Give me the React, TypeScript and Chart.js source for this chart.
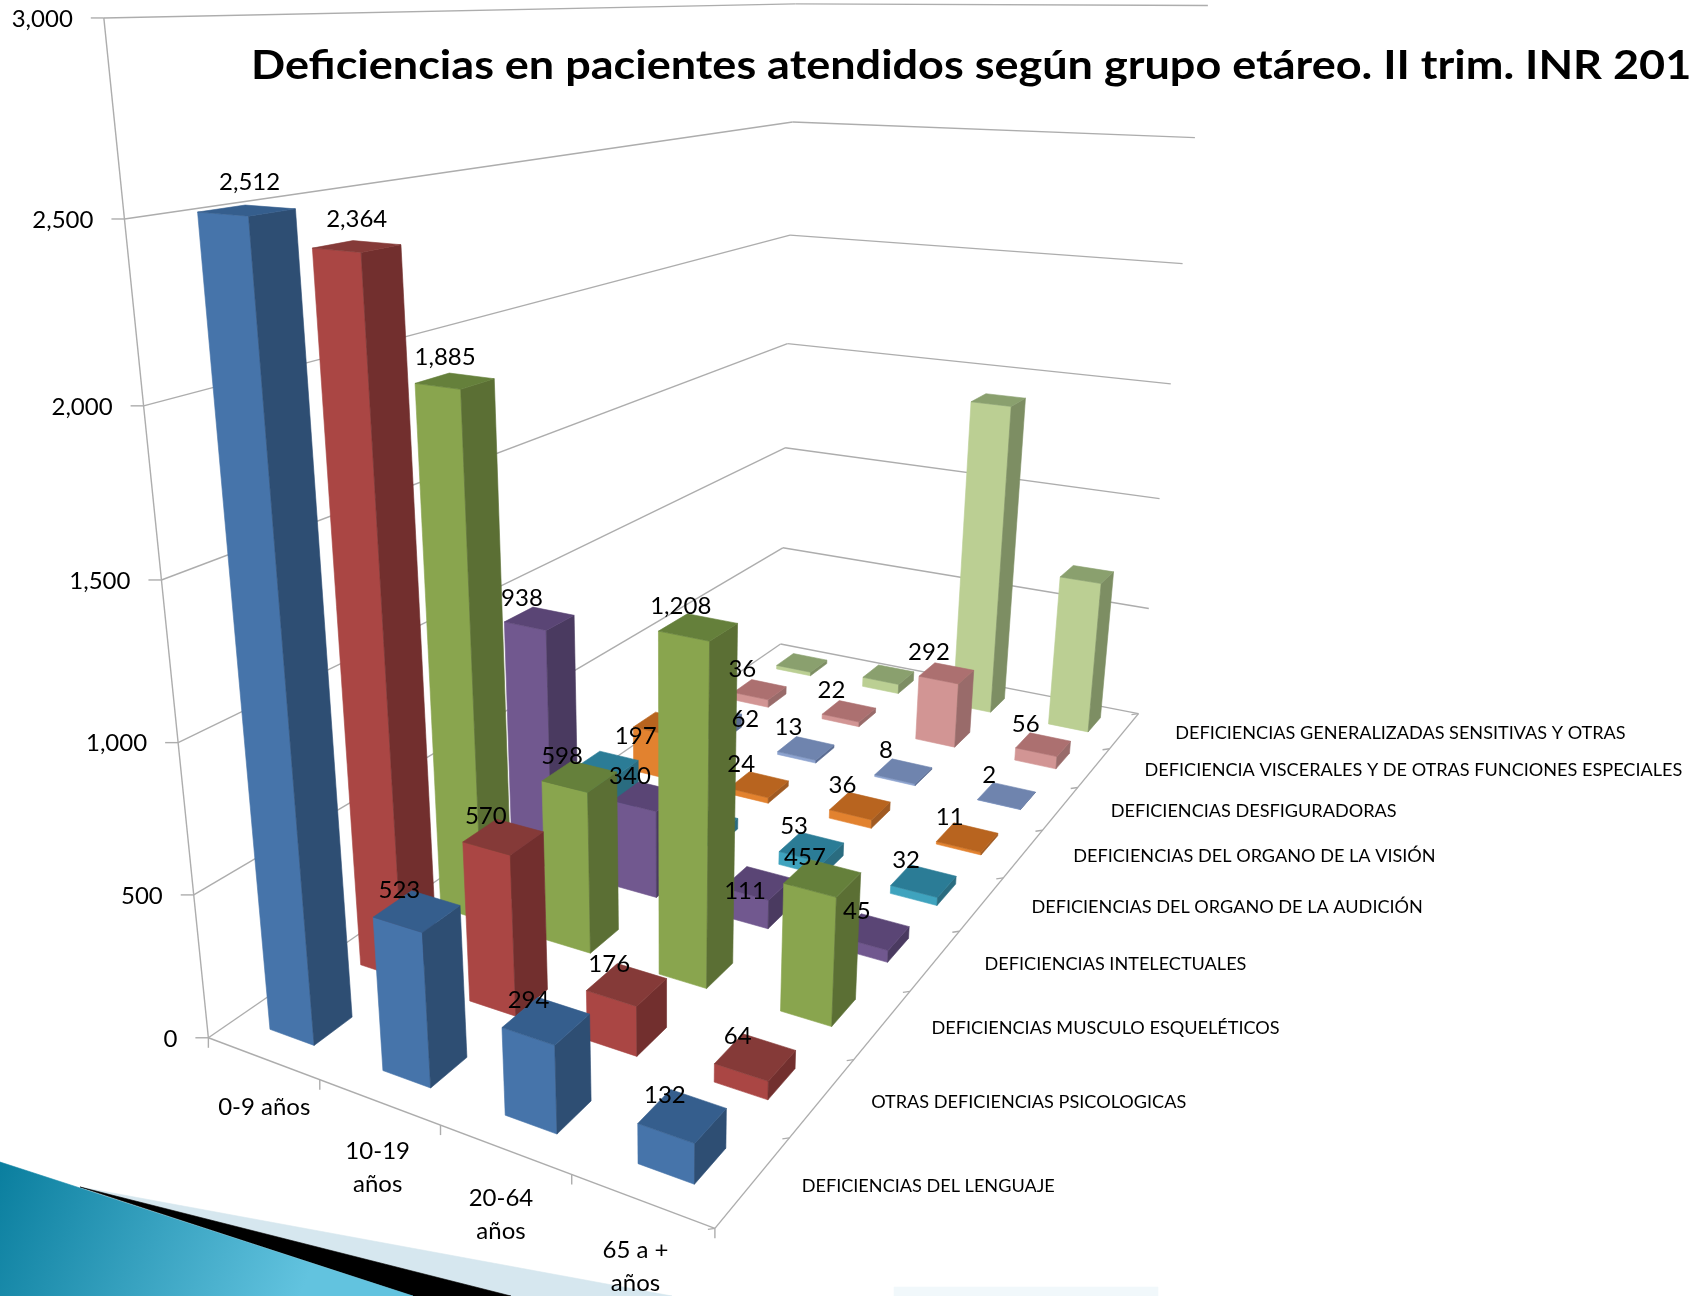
import React, { useEffect, useRef } from "react";
import { Chart, BarController, BarElement, CategoryScale, LinearScale } from "chart.js";

Chart.register(BarController, BarElement, CategoryScale, LinearScale);

const TITLE = "Deficiencias en pacientes atendidos según grupo etáreo. II trim. INR 2013";
const ageGroups = ["0-9 años", "10-19 años", "20-64 años", "65 a + años"];
const ageLines = [["0-9 años"], ["10-19", "años"], ["20-64", "años"], ["65 a +", "años"]];
const deficiencies = [
  "DEFICIENCIAS DEL LENGUAJE",
  "OTRAS DEFICIENCIAS PSICOLOGICAS",
  "DEFICIENCIAS MUSCULO ESQUELÉTICOS",
  "DEFICIENCIAS INTELECTUALES",
  "DEFICIENCIAS DEL ORGANO DE LA AUDICIÓN",
  "DEFICIENCIAS DEL ORGANO DE LA VISIÓN",
  "DEFICIENCIAS DESFIGURADORAS",
  "DEFICIENCIA VISCERALES Y DE OTRAS FUNCIONES ESPECIALES",
  "DEFICIENCIAS GENERALIZADAS SENSITIVAS Y OTRAS",
];
const lenguaje = [2512, 523, 294, 132];
const psicologicas = [2364, 570, 176, 64];
const musculo = [1885, 598, 1208, 457];
const intelectuales = [938, 340, 111, 45];
const audicion = [190, 45, 53, 32];
const vision = [197, 24, 36, 11];
const desfiguradoras = [62, 13, 8, 2];
const viscerales = [36, 22, 292, 56];
const generalizadas = [18, 45, 1400, 685];
const seriesValues = [lenguaje, psicologicas, musculo, intelectuales, audicion, vision, desfiguradoras, viscerales, generalizadas];
const yTicks = [0, 500, 1000, 1500, 2000, 2500, 3000];

const frontColors = ["#4674AA", "#AA4644", "#89A54E", "#71588F", "#3FA3BE", "#E2822F", "#8DA3CF", "#D29594", "#BBCF93"];
const sideColors = ["#2E4E73", "#722F2E", "#5B6F34", "#4A3A60", "#2A6C80", "#A05A22", "#5A6C92", "#996B6A", "#7D8E63"];
const topColors = ["#355E8D", "#853A38", "#65803B", "#5A4575", "#2B7C96", "#B8641F", "#6F84AE", "#AC7070", "#8AA06E"];
const hiddenLabelSeries = [8];
const hiddenLabels = ["4:0", "4:1"];
const labelNudge: Record<string, [number, number]> = { "3:2": [5, 29], "5:0": [-10, 33], "6:0": [49, 22] };

const BAR_U = 0.4;
const BAR_W = 0.41;

// Camera fit: cube corners (age, depth, height) -> picture position
const cameraFit: number[][] = [
  [0, 0, 0, 207, 1037], [1, 0, 0, 715, 1229], [1, 1, 0, 1138, 713], [0, 1, 0, 780, 644],
  [0, 0, 1, 105, 17], [0, 1, 1, 791, 3], [1, 1, 1, 1208, 6],
  [0, 0, 5 / 6, 125, 219], [0, 0, 0.5, 161, 582], [0, 1, 0.5, 790, 345], [1, 1, 0.5, 1171, 382],
  [0, 0, 1 / 6, 194, 894], [1, 1, 1 / 6, 1148, 609],
  [1, 1, 5 / 6, 1195, 138], [1, 1, 4 / 6, 1183, 264], [1, 1, 2 / 6, 1160, 499],
  [0, 1, 5 / 6, 793, 122], [0, 1, 4 / 6, 792, 235],
];

function solveCamera(fit: number[][]): number[] {
  const n = 11;
  const A = Array.from({ length: n }, () => new Array(n + 1).fill(0));
  const add = (row: number[], rhs: number) => {
    for (let i = 0; i < n; i++) {
      for (let j = 0; j < n; j++) A[i][j] += row[i] * row[j];
      A[i][n] += row[i] * rhs;
    }
  };
  for (const [u, w, h, px, py] of fit) {
    const x = px / 1000, y = py / 1000;
    add([u, w, h, 1, 0, 0, 0, 0, -x * u, -x * w, -x * h], x);
    add([0, 0, 0, 0, u, w, h, 1, -y * u, -y * w, -y * h], y);
  }
  for (let c = 0; c < n; c++) {
    let best = c;
    for (let r = c + 1; r < n; r++) if (Math.abs(A[r][c]) > Math.abs(A[best][c])) best = r;
    [A[c], A[best]] = [A[best], A[c]];
    for (let r = 0; r < n; r++) {
      if (r === c) continue;
      const f = A[r][c] / A[c][c];
      for (let k = c; k <= n; k++) A[r][k] -= f * A[c][k];
    }
  }
  return A.map((row, i) => row[n] / row[i]);
}
const cam = solveCamera(cameraFit);
function project(u: number, w: number, h: number): [number, number] {
  const d = cam[8] * u + cam[9] * w + cam[10] * h + 1;
  return [
    (1000 * (cam[0] * u + cam[1] * w + cam[2] * h + cam[3])) / d,
    (1000 * (cam[4] * u + cam[5] * w + cam[6] * h + cam[7])) / d,
  ];
}

function poly(ctx: CanvasRenderingContext2D, pts: [number, number][], fill: any) {
  ctx.beginPath();
  pts.forEach((p, i) => (i ? ctx.lineTo(p[0], p[1]) : ctx.moveTo(p[0], p[1])));
  ctx.closePath();
  ctx.fillStyle = fill;
  ctx.fill();
  ctx.strokeStyle = fill;
  ctx.lineWidth = 0.6;
  ctx.stroke();
}
function seg(ctx: CanvasRenderingContext2D, a: [number, number], b: [number, number]) {
  ctx.beginPath();
  ctx.moveTo(a[0], a[1]);
  ctx.lineTo(b[0], b[1]);
  ctx.stroke();
}

function drawDecor(ctx: CanvasRenderingContext2D) {
  poly(ctx, [[80, 1187], [672, 1296], [511, 1296]], "#d6e7ef");
  poly(ctx, [[80, 1187], [511, 1296], [413, 1296]], "#000000");
  const g = ctx.createLinearGradient(0, 1170, 300, 1296);
  g.addColorStop(0, "#0b7f9f");
  g.addColorStop(1, "#62c3df");
  poly(ctx, [[0, 1162], [80, 1188], [413, 1296], [0, 1296]], g);
  poly(ctx, [[894, 1287], [1158, 1287], [1158, 1296], [894, 1296]], "#f1f8fb");
}

const threeD = {
  id: "threeD",
  beforeDatasetsDraw(chart: any) {
    const { ctx } = chart;
    const xs = chart.scales.x, ys = chart.scales.y, zs = chart.scales.z;
    const uOf = (i: number) => (xs.getPixelForValue(i) - xs.left) / xs.width;
    const wOf = (j: number) => (zs.getPixelForValue(j) - zs.left) / zs.width;
    const hOf = (v: number) => (ys.bottom - ys.getPixelForValue(v)) / ys.height;

    ctx.save();
    ctx.fillStyle = "#ffffff";
    ctx.fillRect(0, 0, chart.width, chart.height);
    drawDecor(ctx);

    // walls and floor
    ctx.strokeStyle = "#adadad";
    ctx.lineWidth = 1.4;
    for (const t of yTicks) {
      const h = hOf(t);
      seg(ctx, project(0, 0, h), project(0, 1, h));
      seg(ctx, project(0, 1, h), project(1, 1, h));
      const p = project(0, 0, h);
      seg(ctx, p, [p[0] - 13, p[1]]);
    }
    seg(ctx, project(0, 0, 0), project(0, 0, 1));
    seg(ctx, project(0, 0, 0), project(1, 0, 0));
    seg(ctx, project(1, 0, 0), project(1, 1, 0));
    for (let i = 0; i <= ageGroups.length; i++) {
      const p = project(i / ageGroups.length, 0, 0);
      seg(ctx, p, [p[0], p[1] + 10]);
    }
    for (let j = 0; j <= deficiencies.length; j++) {
      const p = project(1, j / deficiencies.length, 0);
      seg(ctx, p, [p[0] - 7, p[1] + 1]);
    }

    // tick texts
    ctx.fillStyle = "#000";
    ctx.textBaseline = "middle";
    ctx.font = "24px Lato";
    ctx.textAlign = "right";
    for (const t of yTicks) {
      const p = project(0, 0, hOf(t));
      ctx.fillText(t.toLocaleString("en-US"), p[0] - 31, p[1] + 1);
    }
    ctx.textAlign = "center";
    ageLines.forEach((lines, i) => {
      const u = uOf(i);
      const p = project(u, 0, 0);
      lines.forEach((l, k) => ctx.fillText(l, p[0] + 2.5 - 10 * u, p[1] + 49 + k * 33));
    });
    ctx.textAlign = "left";
    ctx.font = "18.1px Lato";
    deficiencies.forEach((d, j) => {
      const w = wOf(j);
      const p = project(1, w, 0);
      ctx.fillText(d, p[0] + 48 + 3 * w, p[1] + 5 - 3 * w);
    });

    // bars: painter's order (left columns first, back rows first)
    const bu = BAR_U / 2 / ageGroups.length, bw = BAR_W / 2 / deficiencies.length;
    ageGroups.forEach((_, i) => {
      const u = uOf(i);
      const u0 = u - bu, u1 = u + bu;
      for (let j = deficiencies.length - 1; j >= 0; j--) {
        const v = chart.data.datasets[j].data[i] as number;
        const w = wOf(j), w0 = w - bw, w1 = w + bw, h = hOf(v);
        poly(ctx, [project(u0, w0, 0), project(u1, w0, 0), project(u1, w0, h), project(u0, w0, h)], frontColors[j]);
        poly(ctx, [project(u1, w0, 0), project(u1, w1, 0), project(u1, w1, h), project(u1, w0, h)], sideColors[j]);
        poly(ctx, [project(u0, w0, h), project(u1, w0, h), project(u1, w1, h), project(u0, w1, h)], topColors[j]);
      }
    });

    // value labels sit on top of every bar
    ctx.fillStyle = "#000";
    ctx.font = "24px Lato";
    ctx.textAlign = "center";
    ctx.textBaseline = "middle";
    ageGroups.forEach((_, i) => {
      const u = uOf(i);
      for (let j = deficiencies.length - 1; j >= 0; j--) {
        if (hiddenLabelSeries.includes(j) || hiddenLabels.includes(j + ":" + i)) continue;
        const v = chart.data.datasets[j].data[i] as number;
        const p = project(u, wOf(j), hOf(v));
        const [nx, ny] = labelNudge[j + ":" + i] || [0, 0];
        const tall = Math.max(0, v - 1500);
        ctx.fillText(v.toLocaleString("en-US"), p[0] - 17.5 + 0.02 * tall + nx, p[1] - 20.5 - 0.008 * tall + ny);
      }
    });

    // title
    ctx.textAlign = "left";
    ctx.textBaseline = "alphabetic";
    ctx.font = "bold 40px Lato";
    ctx.translate(251, 79);
    ctx.scale(1.125, 1);
    ctx.fillText(TITLE, 0, 0);
    ctx.restore();
    return false;
  },
};

export default function App() {
  const ref = useRef<HTMLCanvasElement>(null);
  useEffect(() => {
    document.body.style.margin = "0";
    const chart = new Chart(ref.current as HTMLCanvasElement, {
      type: "bar",
      data: {
        labels: ageGroups,
        datasets: deficiencies.map((d, j) => ({
          label: d,
          data: seriesValues[j],
          backgroundColor: frontColors[j],
        })),
      },
      options: {
        responsive: false,
        animation: false,
        layout: { padding: 0 },
        plugins: { legend: { display: false }, title: { display: false }, tooltip: { enabled: false } },
        scales: {
          x: { type: "category", display: false, offset: true },
          z: { type: "category", axis: "x", labels: deficiencies, display: false, offset: true },
          y: { type: "linear", min: 0, max: 3000, display: false },
        },
      },
      plugins: [threeD],
    } as any);
    return () => chart.destroy();
  }, []);
  return <canvas ref={ref} width={1689} height={1296} style={{ display: "block", width: 1689, height: 1296 }} />;
}
